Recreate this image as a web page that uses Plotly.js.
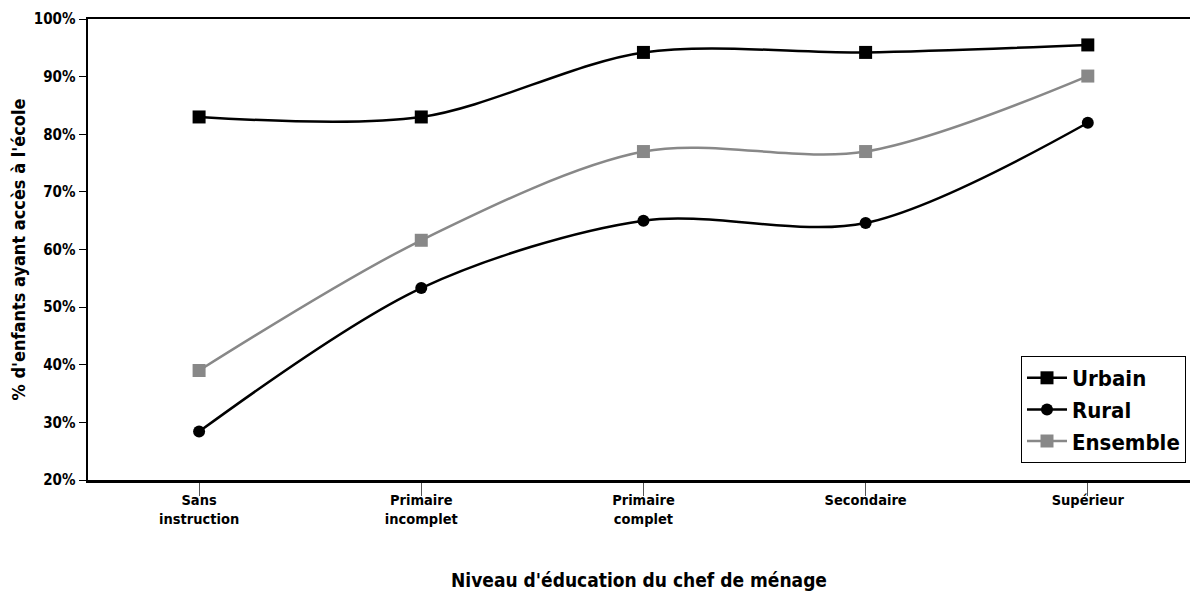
<!DOCTYPE html>
<html>
<head>
<meta charset="utf-8">
<script src="https://cdn.plot.ly/plotly-3.0.1.min.js"></script>
<style>html,body{margin:0;padding:0;background:#fff;}#chart{width:1190px;height:595px;}</style>
</head>
<body>
<div id="chart"></div>
<script>
const categories = ["Sans<br>instruction", "Primaire<br>incomplet", "Primaire<br>complet", "Secondaire", "Supérieur"];
const urbain = [83.0, 83.0, 94.2, 94.2, 95.5];
const rural = [28.4, 53.3, 65.0, 64.6, 82.0];
const ensemble = [39.0, 61.6, 77.0, 77.0, 90.1];
const yTickVals = [20, 30, 40, 50, 60, 70, 80, 90, 100];
const yTickText = ["20%", "30%", "40%", "50%", "60%", "70%", "80%", "90%", "100%"];

const FONT = "'Liberation Sans Narrow', 'DejaVu Sans Condensed', 'Roboto Condensed', Arial, sans-serif";
const xs = categories.map((c, i) => i);

const traces = [
  {x: xs, y: urbain, name: "Urbain", type: "scatter", mode: "lines+markers",
   line: {color: "#000", width: 2.5, shape: "spline", smoothing: 0.9},
   marker: {symbol: "square", size: 13, color: "#000"}},
  {x: xs, y: rural, name: "Rural", type: "scatter", mode: "lines+markers",
   line: {color: "#000", width: 2.5, shape: "spline", smoothing: 0.9},
   marker: {symbol: "circle", size: 12, color: "#000"}},
  {x: xs, y: ensemble, name: "Ensemble", type: "scatter", mode: "lines+markers",
   line: {color: "#888", width: 2.5, shape: "spline", smoothing: 0.9},
   marker: {symbol: "square", size: 13, color: "#888"}}
];

const layout = {
  width: 1190, height: 595,
  margin: {l: 88, r: 0, t: 19, b: 115},
  paper_bgcolor: "#fff", plot_bgcolor: "#fff",
  font: {family: FONT, color: "#000"},
  showlegend: true,
  legend: {xref: "paper", font: {family: FONT, size: 22, weight: "bold"},
           bordercolor: "#000", borderwidth: 1, bgcolor: "#fff",
           xanchor: "left", yanchor: "bottom", tracegroupgap: 0, itemwidth: 40},
  xaxis: {
    range: [-0.5, 4.46], tickmode: "array", tickvals: xs, ticktext: categories,
    tickson: "boundaries", ticks: "outside", ticklen: 13, tickwidth: 1, tickcolor: "#555",
    ticklabelstandoff: -8,
    showline: true, linecolor: "#000", linewidth: 2.5, mirror: true,
    showgrid: false, zeroline: false, fixedrange: true,
    tickfont: {family: FONT, size: 14.5, weight: "bold"},
    title: {text: "Niveau d'éducation du chef de ménage", font: {family: FONT, size: 19, weight: "bold"}, standoff: 48}
  },
  yaxis: {
    range: [20, 100], tickmode: "array", tickvals: yTickVals, ticktext: yTickText,
    ticks: "outside", ticklen: 7, tickwidth: 1, tickcolor: "#000",
    showline: true, linecolor: "#000", linewidth: 2.5, mirror: false,
    showgrid: false, zeroline: false, fixedrange: true,
    tickfont: {family: FONT, size: 15, weight: "bold"},
    title: {text: "% d'enfants ayant accès à l'école", font: {family: FONT, size: 18, weight: "bold"}, standoff: 4}
  }
};
layout.legend.x = (1021 - 88) / (1190 - 88);
layout.legend.y = (595 - 115 - 463) / (595 - 115 - 19);

Plotly.newPlot("chart", traces, layout, {displayModeBar: false, staticPlot: true});
</script>
</body>
</html>
